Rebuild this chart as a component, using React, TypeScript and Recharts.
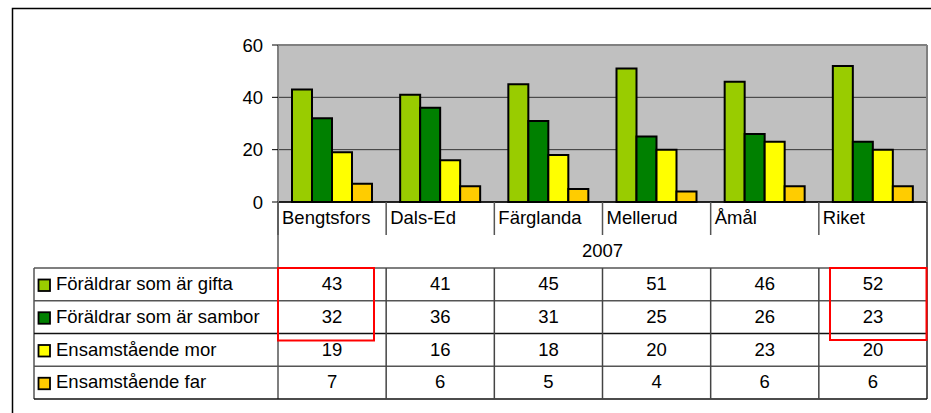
import { BarChart, Bar, XAxis, YAxis, CartesianGrid } from "recharts";

const categories = ["Bengtsfors", "Dals-Ed", "Färglanda", "Mellerud", "Åmål", "Riket"];
const yearLabel = "2007";
const seriesNames = [
  "Föräldrar som är gifta",
  "Föräldrar som är sambor",
  "Ensamstående mor",
  "Ensamstående far",
];
const gifta = [43, 41, 45, 51, 46, 52];
const sambor = [32, 36, 31, 25, 26, 23];
const mor = [19, 16, 18, 20, 23, 20];
const far = [7, 6, 5, 4, 6, 6];
const yTicks = [0, 20, 40, 60];

const seriesValues = [gifta, sambor, mor, far];
const seriesKeys = ["gifta", "sambor", "mor", "far"];
const colors = ["#99CC00", "#008000", "#FFFF00", "#FFCC00"];

const data = categories.map((name, i) => ({
  name,
  gifta: gifta[i],
  sambor: sambor[i],
  mor: mor[i],
  far: far[i],
}));

// layout of the plot and the data table under it
const W = 931;
const H = 413;
const PLOT_L = 278;
const PLOT_R = 927;
const PLOT_T = 45;
const PLOT_B = 202;
const BAND = (PLOT_R - PLOT_L) / categories.length;
const LABEL_ROW_B = 235;
const TABLE_T = 268;
const ROW_H = 32.75;
const TABLE_L = 34;
const FONT = '"Liberation Sans", Arial, sans-serif';
const FS = 18.5;

const CategoryTick = (props: any) => {
  const { x, payload } = props;
  const left = x - BAND / 2;
  return (
    <g>
      <line x1={left} y1={PLOT_B} x2={left} y2={LABEL_ROW_B} stroke="#555" strokeWidth={1.5} />
      <text x={left + 4} y={PLOT_B + 22} fontSize={FS} fontFamily={FONT} fill="#000" textAnchor="start">
        {payload.value}
      </text>
    </g>
  );
};

export default function App() {
  const tableB = TABLE_T + ROW_H * seriesNames.length;
  return (
    <div style={{ position: "absolute", left: 0, top: 0, width: W, height: H, background: "#fff", overflow: "hidden" }}>
      <BarChart
        width={W}
        height={H}
        data={data}
        margin={{ top: PLOT_T, right: W - PLOT_R, left: PLOT_L - 60, bottom: H - PLOT_B - 33 }}
        barGap={0}
        barCategoryGap={14}
      >
        <CartesianGrid vertical={false} stroke="#333" fill="#C0C0C0" />
        <XAxis
          dataKey="name"
          height={33}
          axisLine={{ stroke: "#000", strokeWidth: 1.5 }}
          tickLine={false}
          interval={0}
          tick={<CategoryTick />}
        />
        <YAxis
          width={60}
          domain={[0, 60]}
          ticks={yTicks}
          interval={0}
          tickSize={6}
          tickMargin={9}
          axisLine={{ stroke: "#808080", strokeWidth: 2 }}
          tickLine={{ stroke: "#000" }}
          tick={{ fontSize: FS, fontFamily: FONT, fill: "#000" }}
        />
        {seriesKeys.map((k, i) => (
          <Bar
            key={k}
            dataKey={k}
            name={seriesNames[i]}
            fill={colors[i]}
            stroke="#000"
            strokeWidth={2}
            isAnimationActive={false}
          />
        ))}
      </BarChart>
      <svg
        width={W}
        height={H}
        style={{ position: "absolute", left: 0, top: 0, pointerEvents: "none" }}
        fontFamily={FONT}
      >
        {/* outer frame */}
        <rect x={12.5} y={8.5} width={1000} height={1000} fill="none" stroke="#000" strokeWidth={1.5} />
        {/* plot border top/right */}
        <line x1={PLOT_L} y1={PLOT_T} x2={PLOT_R} y2={PLOT_T} stroke="#808080" strokeWidth={2} />
        <line x1={PLOT_R} y1={PLOT_T} x2={PLOT_R} y2={PLOT_B} stroke="#808080" strokeWidth={2} />
        {/* table frame */}
        <line x1={PLOT_L} y1={PLOT_B} x2={PLOT_L} y2={tableB} stroke="#555" strokeWidth={1.5} />
        <line x1={PLOT_R} y1={PLOT_B} x2={PLOT_R} y2={tableB} stroke="#222" strokeWidth={1.5} />
        <line x1={TABLE_L} y1={TABLE_T} x2={TABLE_L} y2={tableB} stroke="#555" strokeWidth={1.5} />
        <text x={(PLOT_L + PLOT_R) / 2} y={257} fontSize={FS} textAnchor="middle" fill="#000">
          {yearLabel}
        </text>
        {seriesNames.map((_, r) => (
          <line
            key={"h" + r}
            x1={TABLE_L}
            y1={TABLE_T + r * ROW_H}
            x2={PLOT_R}
            y2={TABLE_T + r * ROW_H}
            stroke={r === 2 ? "#111" : "#555"}
            strokeWidth={1.5}
          />
        ))}
        <line x1={TABLE_L} y1={tableB} x2={PLOT_R} y2={tableB} stroke="#111" strokeWidth={1.5} />
        {categories.slice(1).map((c, i) => (
          <line
            key={"v" + c}
            x1={PLOT_L + (i + 1) * BAND}
            y1={TABLE_T}
            x2={PLOT_L + (i + 1) * BAND}
            y2={tableB}
            stroke="#444"
            strokeWidth={1.5}
          />
        ))}
        {seriesNames.map((name, r) => {
          const top = TABLE_T + r * ROW_H;
          return (
            <g key={name}>
              <rect x={38.5} y={top + 11.5} width={11.5} height={11.5} fill={colors[r]} stroke="#000" strokeWidth={1.8} />
              <text x={56} y={top + 22} fontSize={FS} fill="#000">
                {name}
              </text>
              {seriesValues[r].map((v, i) => (
                <text
                  key={i}
                  x={PLOT_L + (i + 0.5) * BAND}
                  y={top + 22}
                  fontSize={FS}
                  textAnchor="middle"
                  fill="#000"
                >
                  {v}
                </text>
              ))}
            </g>
          );
        })}
        {/* red highlight boxes */}
        <rect x={278} y={268} width={96} height={72.5} fill="none" stroke="#FF0000" strokeWidth={2} />
        <rect x={830} y={268} width={96.5} height={72} fill="none" stroke="#FF0000" strokeWidth={2} />
      </svg>
    </div>
  );
}
